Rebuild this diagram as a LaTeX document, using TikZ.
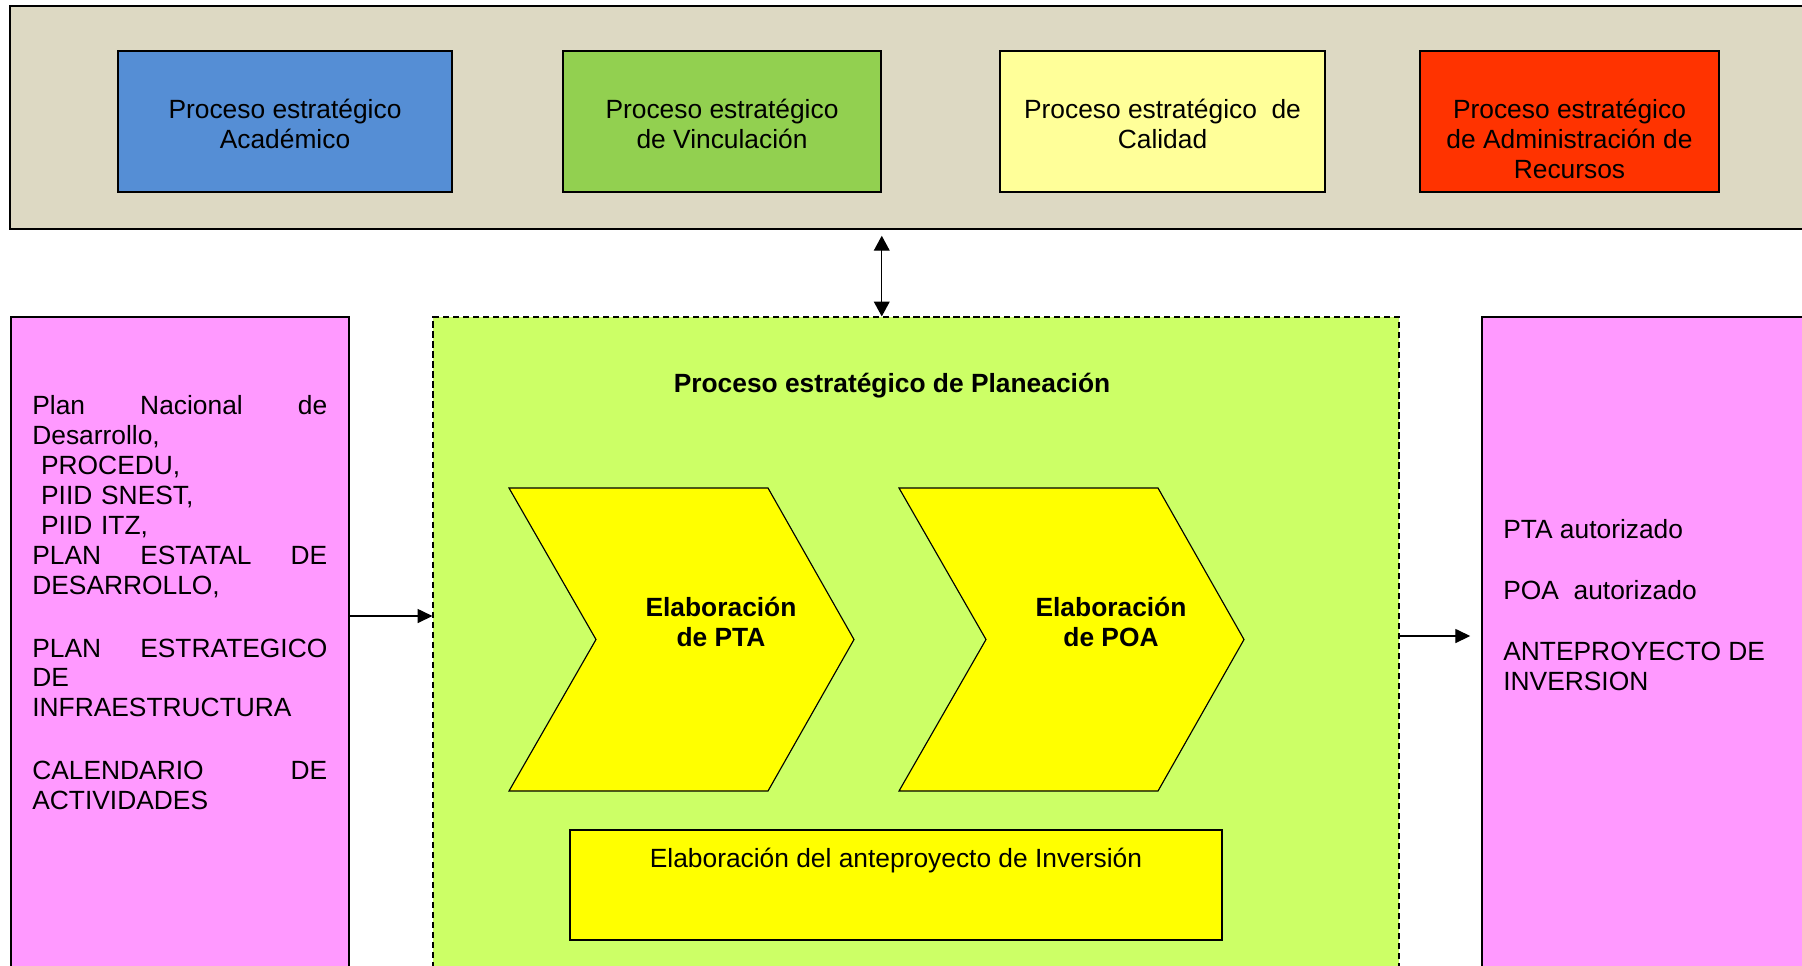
\documentclass[tikz,border=0pt]{standalone}
\usepackage{fontspec}
\setmainfont{Liberation Sans}
\usetikzlibrary{arrows.meta}

\definecolor{fondo}{HTML}{DDD9C3}
\definecolor{azul}{HTML}{558ED5}
\definecolor{verde}{HTML}{92D050}
\definecolor{amarillo}{HTML}{FFFF99}
\definecolor{rojo}{HTML}{FF3300}
\definecolor{rosa}{HTML}{FF99FF}
\definecolor{lima}{HTML}{CCFF66}
\definecolor{amarillofuerte}{HTML}{FFFF00}

\tikzset{
  caja/.style={draw, line width=0.9pt, inner sep=0pt},
  punteada/.style={draw, line width=0.7pt, dash pattern=on 3.5pt off 2.2pt, inner sep=0pt},
  texto/.style={inner sep=0pt, font=\fontsize{15}{17}\selectfont},
  negrita/.style={inner sep=0pt, font=\fontsize{15}{17}\selectfont\bfseries},
  chevron/.style={draw, line width=0.65pt, fill=amarillofuerte},
  flecha/.style={-{Triangle[length=8.5pt,width=8pt]}, line width=0.75pt},
  flechadoble/.style={{Triangle[length=8.5pt,width=9pt]}-{Triangle[length=8.5pt,width=9pt]}, line width=0.75pt},
}

\begin{document}
\begin{tikzpicture}[x=0.02cm,y=-0.02cm]
\useasboundingbox (0,0) rectangle (1802,965);

\node[caja, fill=fondo, minimum width=36.4cm, minimum height=4.46cm] (estrategia) at (920,117.5) {};
\foreach \nombre/\cx/\ancho/\relleno/\txt in {
    acad/285/6.68/azul/{Proceso estratégico\\Académico},
    vinc/722/6.36/verde/{Proceso estratégico\\de Vinculación},
    cal/1162.5/6.5/amarillo/{Proceso estratégico~~de\\Calidad},
    recur/1569.5/5.98/rojo/{Proceso estratégico\\de Administración de\\Recursos}} {
        \node[caja, fill=\relleno, minimum width=\ancho cm, minimum height=2.82cm] (\nombre) at (\cx,121.5) {};
        \node[texto, align=center, anchor=north] (\nombre-t) at (\cx,99) {\txt};
    }

\node[caja, fill=rosa, minimum width=6.76cm, minimum height=13.16cm] (entradas) at (180,646) {};
\node[texto, text width=5.9cm, align=left, anchor=north west] (entradas-t) at (32,395.5)
    {Plan\hfill Nacional\hfill de\\ Desarrollo,\\ \ PROCEDU,\\ \ PIID SNEST,\\ \ PIID ITZ,\\
     PLAN\hfill ESTATAL\hfill DE\\ DESARROLLO,\\[0.66cm] PLAN\hfill ESTRATEGICO\\ DE\\
     INFRAESTRUCTURA\\[0.66cm] CALENDARIO\hfill DE\\ ACTIVIDADES};

\node[caja, punteada, fill=lima, minimum width=19.32cm, minimum height=13.16cm] (plan) at (916,646) {};
\node[negrita, anchor=base] (titulo) at (892,392.5) {Proceso estratégico de Planeación};

\foreach \dx/\nombre/\txt in {0/pta/PTA, 390/poa/POA} {
        \draw[chevron] (509+\dx,488) -- (768+\dx,488) -- (854+\dx,639.5) -- (768+\dx,791)
            -- (509+\dx,791) -- (596+\dx,639.5) -- cycle;
        \node[negrita, align=center] (\nombre) at (721+\dx,622) {Elaboración\\de \txt};
    }

\node[caja, fill=amarillofuerte, minimum width=13.04cm, minimum height=2.2cm] (inversion) at (896,885) {};
\node[texto, anchor=base] (inversion-t) at (896,867.5) {Elaboración del anteproyecto de Inversión};

\node[caja, fill=rosa, minimum width=6.96cm, minimum height=13.16cm] (salidas) at (1656,646) {};
\node[texto, align=left, anchor=north west] (salidas-t) at (1503,519.5)
    {PTA autorizado\\[0.62cm] POA~~autorizado\\[0.62cm] ANTEPROYECTO DE\\ INVERSION};

\coordinate (yin) at (0,616);
\coordinate (yout) at (0,636);
\draw[flecha] (entradas.east |- yin) -- (plan.west |- yin);
\draw[flecha, shorten >=0.22cm] (plan.east |- yout) -- (salidas.west |- yout);
\draw[flechadoble, shorten <=0.12cm] (estrategia.south -| vinc.east) -- (plan.north -| vinc.east);
\end{tikzpicture}
\end{document}
